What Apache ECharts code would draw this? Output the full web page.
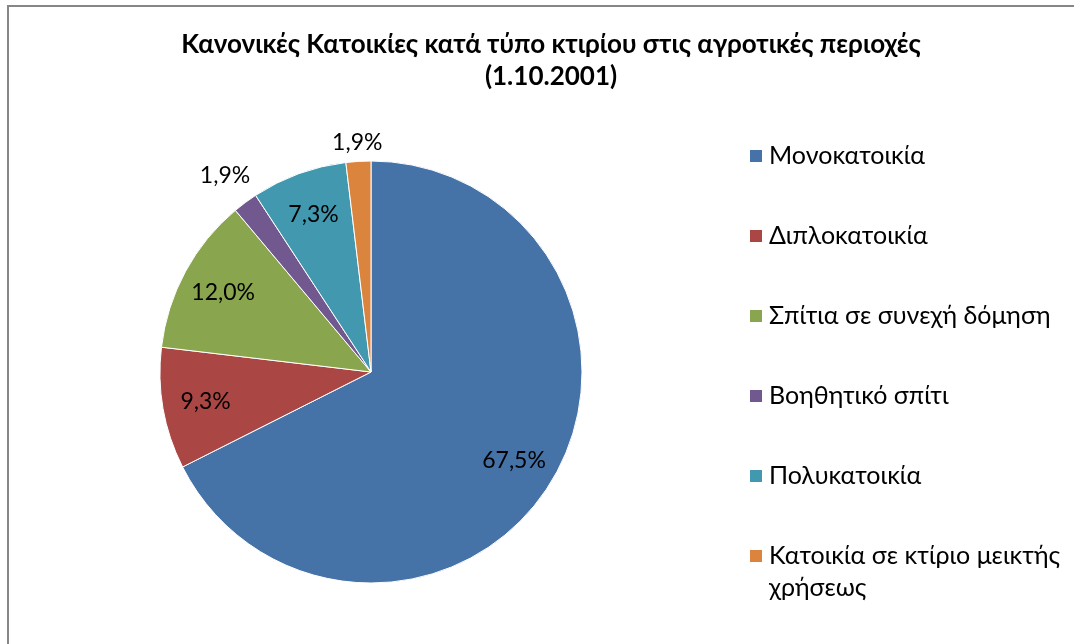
<!DOCTYPE html>
<html>
<head>
<meta charset="utf-8">
<script src="https://cdn.jsdelivr.net/npm/echarts@6/dist/echarts.min.js"></script>
<style>
  html, body { margin: 0; padding: 0; background: #fff; overflow: hidden; }
  .frame {
    position: absolute; left: 7px; top: 5px; width: 2000px; height: 2000px;
    border-left: 2px solid #868686; border-top: 2px solid #868686;
  }
  #chart { position: absolute; left: 0; top: 0; width: 1074px; height: 644px; }
</style>
</head>
<body>
<div class="frame"></div>
<div id="chart"></div>
<script>
const categories = [
  'Μονοκατοικία',
  'Διπλοκατοικία',
  'Σπίτια σε συνεχή δόμηση',
  'Βοηθητικό σπίτι',
  'Πολυκατοικία',
  'Κατοικία σε κτίριο μεικτής χρήσεως',
];
const shares = [67.5, 9.3, 12.0, 1.9, 7.3, 1.9];
const colors = ['#4572A7', '#AA4643', '#89A54E', '#71588F', '#4198AF', '#DB843D'];

const FONT = 'Lato, "Open Sans", sans-serif';
const center = [371, 372];
const R = 211;

function fmtPct(v) {
  return v.toFixed(1).replace('.', ',') + '%';
}

const pieData = categories.map((name, i) => ({
  name, value: shares[i], itemStyle: { color: colors[i] },
}));

// invisible copy of the pie, only used to place the labels of some slices
// at a given distance from the centre
function labelRing(shown, radius) {
  return {
    type: 'pie',
    silent: true,
    center,
    radius,
    startAngle: 90,
    clockwise: true,
    legendHoverLink: false,
    itemStyle: { color: 'transparent', borderWidth: 0 },
    emphasis: { disabled: true },
    label: {
      position: 'inside',
      fontFamily: FONT, fontSize: 23, color: '#000',
      formatter: (p) => fmtPct(p.value),
    },
    labelLine: { show: false },
    data: categories.map((name, i) => ({
      name, value: shares[i],
      label: { show: shown.includes(i) },
    })),
    z: 3,
  };
}

const chart = echarts.init(document.getElementById('chart'));
chart.setOption({
  animation: false,
  title: {
    text: 'Κανονικές Κατοικίες κατά τύπο κτιρίου στις αγροτικές περιοχές\n(1.10.2001)',
    left: 546,
    top: 24,
    textAlign: 'center',
    textStyle: { fontFamily: FONT, fontSize: 26, fontWeight: 'bold', color: '#000', lineHeight: 32 },
  },
  legend: [
    {
      orient: 'vertical',
      left: 743,
      top: 135,
      icon: 'rect',
      itemWidth: 14,
      itemHeight: 14,
      itemGap: 48,
      data: categories.slice(0, 5),
      textStyle: { fontFamily: FONT, fontSize: 25, color: '#000', lineHeight: 32, padding: [0, 0, 0, 1] },
    },
    {
      orient: 'vertical',
      left: 743,
      top: 503,
      icon: 'rect',
      itemWidth: 14,
      itemHeight: 14,
      data: categories.slice(5),
      // empty first line keeps the square level with the first line of text
      formatter: () => '\nΚατοικία σε κτίριο μεικτής\nχρήσεως',
      textStyle: { fontFamily: FONT, fontSize: 25, color: '#000', lineHeight: 32, padding: [0, 0, 0, 1] },
    },
  ],
  series: [
    {
      type: 'pie',
      center,
      radius: [0, R],
      startAngle: 90,
      clockwise: true,
      itemStyle: { borderColor: '#fff', borderWidth: 1 },
      label: { show: false },
      labelLine: { show: false },
      emphasis: { scale: false },
      data: pieData,
      z: 2,
    },
    labelRing([0, 1, 2, 4], [120, 210]),
    labelRing([3], [228, 256]),
    labelRing([5], [214, 240]),
  ],
});
</script>
</body>
</html>
